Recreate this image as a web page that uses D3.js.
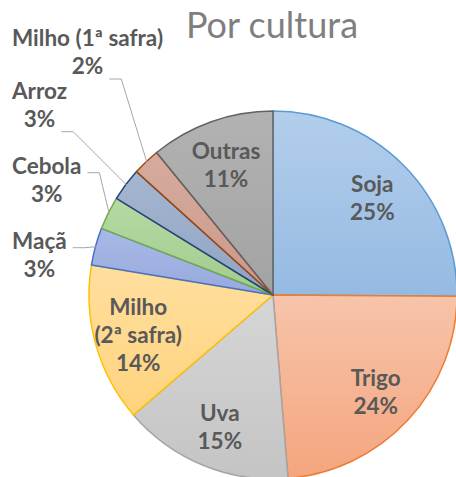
<!DOCTYPE html>
<html>
<head>
<meta charset="utf-8">
<script src="https://cdn.jsdelivr.net/npm/d3@7"></script>
<style>
body { margin: 0; background: #fff; }
</style>
</head>
<body>
<div id="grafico"></div>
<script>
// dados (percentual por cultura)
var culturas = ["Soja", "Trigo", "Uva", "Milho (2ª safra)", "Maçã", "Cebola", "Arroz", "Milho (1ª safra)", "Outras"];
var participacao = [25.1, 23.6, 15.0, 13.9, 3.3, 2.9, 2.9, 2.4, 10.9];
var rotulosFora = ["Maçã", "Cebola", "Arroz", "Milho (1ª safra)"];

// paleta (borda, topo do degrade, base do degrade)
var corBorda = ["#5B9BD5", "#ED7D31", "#A5A5A5", "#FFC000", "#4472C4", "#70AD47", "#264478", "#9E480E", "#636363"];
var corTopo  = ["#B3CEEC", "#F7C4AA", "#D6D6D6", "#FFDF9F", "#A9B9E6", "#B5D9A4", "#A5B6CF", "#D6AC9F", "#B2B2B2"];
var corBase  = ["#95BAE2", "#F4A57E", "#C4C4C4", "#FFD37D", "#97A9DE", "#A2CC8C", "#8FA3C3", "#C9988A", "#A3A3A3"];

var largura = 456, altura = 477;
var cx = 273, cy = 295, raio = 184;
var alturaLinha = 28;
var tamFonte = "22.5px";
var corTexto = "#595959";
var fonte = "Lato, 'Liberation Sans', sans-serif";

var dados = culturas.map(function (c, i) { return { nome: c, valor: participacao[i], i: i }; });

var svg = d3.select("#grafico").append("svg")
    .attr("width", largura)
    .attr("height", altura);

var defs = svg.append("defs");
dados.forEach(function (d) {
    var g = defs.append("linearGradient")
        .attr("id", "grad" + d.i)
        .attr("x1", 0).attr("y1", 0).attr("x2", 0).attr("y2", 1);
    g.append("stop").attr("offset", "0%").attr("stop-color", corTopo[d.i]);
    g.append("stop").attr("offset", "100%").attr("stop-color", corBase[d.i]);
});

// titulo
svg.append("text")
    .attr("x", 272)
    .attr("y", 38)
    .attr("text-anchor", "middle")
    .style("font-family", fonte)
    .style("font-size", "36px")
    .style("fill", "#7F7F7F")
    .text("Por cultura");

var pizza = d3.pie().sort(null).value(function (d) { return d.valor; });
var arcos = pizza(dados);
var arco = d3.arc().innerRadius(0).outerRadius(raio);
var arcoRotulo = d3.arc().innerRadius(140).outerRadius(140);

var corpo = svg.append("g").attr("transform", "translate(" + cx + "," + cy + ")");

corpo.selectAll("path.fatia")
    .data(arcos)
    .enter().append("path")
    .attr("class", "fatia")
    .attr("d", arco)
    .attr("fill", function (d) { return "url(#grad" + d.data.i + ")"; })
    .attr("stroke", function (d) { return corBorda[d.data.i]; })
    .attr("stroke-width", 1.5)
    .attr("stroke-linejoin", "round");

function pct(v) { return Math.round(v) + "%"; }

function novoTexto(alvo) {
    return alvo.append("text")
        .attr("text-anchor", "middle")
        .style("font-family", fonte)
        .style("font-size", tamFonte)
        .style("font-weight", "bold")
        .style("fill", corTexto);
}

// rotulos dentro das fatias
arcos.filter(function (d) { return rotulosFora.indexOf(d.data.nome) < 0; }).forEach(function (d) {
    var c = arcoRotulo.centroid(d);
    var linhas = d.data.nome.indexOf(" (") > 0 ? d.data.nome.split(/ (?=\()/) : [d.data.nome];
    linhas.push(pct(d.data.valor));
    var y0 = c[1] - (linhas.length - 1) * alturaLinha / 2 + 10;
    var t = novoTexto(corpo);
    linhas.forEach(function (l, k) {
        t.append("tspan").attr("x", c[0]).attr("y", y0 + k * alturaLinha).text(l);
    });
});

// rotulos fora, empilhados de baixo para cima a partir de Maçã
// (nao passam do topo da area do grafico)
var fora = arcos.filter(function (d) { return rotulosFora.indexOf(d.data.nome) >= 0; })
    .sort(function (a, b) { return a.startAngle - b.startAngle; });
var anterior = null;
var topoMin = 52;
fora.forEach(function (d) {
    var meio = (d.startAngle + d.endAngle) / 2;
    var alvo = [Math.sin(meio) * (raio - 1), -Math.cos(meio) * (raio - 1)];
    var centroY = cy + alvo[1] + 8;
    if (anterior !== null) centroY = Math.min(centroY, anterior - 75);
    centroY = Math.max(centroY, topoMin);
    anterior = centroY;

    var linhas = [d.data.nome, pct(d.data.valor)];
    var base1 = centroY - alturaLinha / 2 + 8;
    var t = novoTexto(svg);
    var spans = linhas.map(function (l, k) {
        return t.append("tspan").attr("y", base1 + k * alturaLinha).text(l);
    });
    var larguras = spans.map(function (s) { return s.node().getComputedTextLength(); });
    var meioX = 12 + d3.max(larguras) / 2;
    spans.forEach(function (s) { s.attr("x", meioX); });

    // linha guia
    var alvoAbs = [cx + alvo[0], cy + alvo[1]];
    var k = alvoAbs[1] > base1 + alturaLinha + 20 ? 1 : 0;
    var ax = meioX + larguras[k] / 2 + 6;
    var ay = k === 1 ? base1 + alturaLinha + 5 : base1 - 1;
    svg.append("path")
        .attr("d", d3.line()([[ax, ay], [ax + 12, ay], alvoAbs]))
        .attr("fill", "none")
        .attr("stroke", "#A6A6A6")
        .attr("stroke-width", 1);
});
</script>
</body>
</html>
